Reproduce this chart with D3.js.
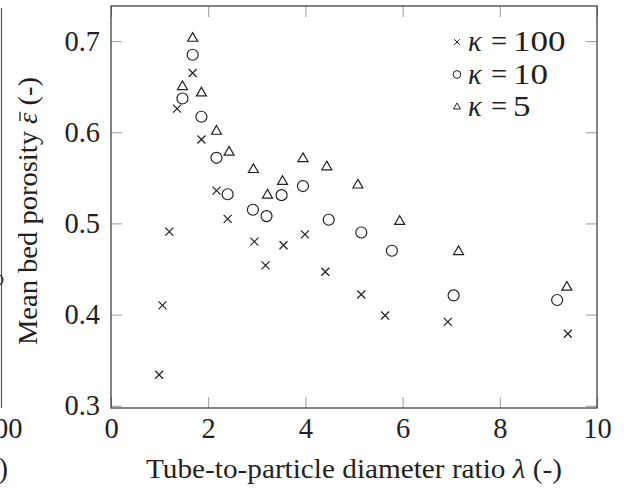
<!DOCTYPE html>
<html>
<head>
<meta charset="utf-8">
<script src="https://cdn.jsdelivr.net/npm/d3@7"></script>
<style>
  html, body { margin: 0; padding: 0; background: #fff; }
  svg { display: block; }
  svg text { font-family: "Liberation Serif", serif; fill: #231f20; }
</style>
</head>
<body>
<svg id="chart" width="624" height="488"></svg>
<script>
// ---- data ----
const xTicks = [0, 2, 4, 6, 8, 10];
const yTicks = [0.3, 0.4, 0.5, 0.6, 0.7];
const yTickLabels = ["0.3", "0.4", "0.5", "0.6", "0.7"];

// kappa = 100 (crosses)
const lambda100 = [0.99, 1.06, 1.20, 1.36, 1.68, 1.86, 2.17, 2.40, 2.95, 3.18, 3.55, 3.99, 4.41, 5.15, 5.64, 6.93, 9.40];
const eps100    = [0.334, 0.410, 0.491, 0.626, 0.665, 0.592, 0.536, 0.505, 0.480, 0.454, 0.476, 0.488, 0.447, 0.422, 0.399, 0.392, 0.379];

// kappa = 10 (circles)
const lambda10 = [1.47, 1.68, 1.86, 2.17, 2.40, 2.92, 3.20, 3.51, 3.95, 4.48, 5.15, 5.78, 7.05, 9.18];
const eps10    = [0.637, 0.685, 0.617, 0.572, 0.532, 0.515, 0.508, 0.531, 0.541, 0.504, 0.490, 0.470, 0.421, 0.416];

// kappa = 5 (triangles)
const lambda5 = [1.47, 1.68, 1.86, 2.17, 2.43, 2.93, 3.22, 3.53, 3.95, 4.44, 5.08, 5.94, 7.15, 9.38];
const eps5    = [0.650, 0.703, 0.643, 0.601, 0.578, 0.559, 0.531, 0.546, 0.571, 0.562, 0.542, 0.502, 0.469, 0.430];

const seriesNames = ["100", "10", "5"];
const seriesShapes = ["cross", "circle", "triangle"];

// ---- layout ----
const svg = d3.select("#chart");
const ink = "#231f20";
const fontSize = 28.5;
const serif = '"Liberation Serif", serif';
const pLeft = 111, pRight = 597, pTop = 6, pBottom = 408;

const x = d3.scaleLinear().domain([0, 10]).range([pLeft, pRight]);
const y = d3.scaleLinear().domain([0.2975, 0.7385]).range([pBottom, pTop]);

// cropped neighbour panel at the far left edge
const nb = svg.append("g");
nb.append("line").attr("x1", 1.5).attr("x2", 1.5).attr("y1", 8).attr("y2", 408)
  .attr("stroke", "#555").attr("stroke-width", 1.2);
nb.append("circle").attr("cx", -2).attr("cy", 280).attr("r", 5)
  .attr("fill", "none").attr("stroke", ink).attr("stroke-width", 1.2);
nb.append("text").attr("x", 1).attr("y", 438).attr("text-anchor", "middle")
  .attr("font-size", fontSize).text("100");
nb.append("text").attr("x", 8).attr("y", 478).attr("text-anchor", "end")
  .attr("font-size", fontSize).text("(-)");

// axes (ticks inside, mirrored)
const tickLen = 11;
const gx = svg.append("g").attr("transform", `translate(0,${pBottom})`)
  .call(d3.axisBottom(x).tickValues(xTicks).tickSize(-tickLen).tickPadding(10).tickFormat(d3.format("d")));
const gy = svg.append("g").attr("transform", `translate(${pLeft},0)`)
  .call(d3.axisLeft(y).tickValues(yTicks).tickSize(-tickLen).tickPadding(11).tickFormat((d, i) => yTickLabels[i]));
const gxt = svg.append("g").attr("transform", `translate(0,${pTop})`)
  .call(d3.axisTop(x).tickValues(xTicks).tickSize(-tickLen).tickFormat(""));
const gyr = svg.append("g").attr("transform", `translate(${pRight},0)`)
  .call(d3.axisRight(y).tickValues(yTicks).tickSize(-tickLen).tickFormat(""));

[gx, gy, gxt, gyr].forEach(g => {
  g.attr("font-family", serif).attr("font-size", fontSize);
  g.select(".domain").remove();
  g.selectAll(".tick line").attr("stroke", "#9a9a9a").attr("stroke-width", 1);
  g.selectAll(".tick text").attr("font-size", fontSize)
    .attr("font-family", serif).attr("fill", ink);
});

// frame
svg.append("rect").attr("x", pLeft).attr("y", pTop).attr("width", pRight - pLeft).attr("height", pBottom - pTop)
  .attr("fill", "none").attr("stroke", "#333").attr("stroke-width", 1.2);

// marker path generators
function markerPath(shape, s) {
  if (shape === "cross") {
    const h = s * 0.8 / 2;
    return `M${-h},${-h}L${h},${h}M${-h},${h}L${h},${-h}`;
  }
  if (shape === "circle") {
    const r = s * 0.55;
    return `M${r},0A${r},${r} 0 1,1 ${-r},0A${r},${r} 0 1,1 ${r},0Z`;
  }
  const a = s; // triangle side
  const hgt = a * Math.sqrt(3) / 2;
  return `M0,${-hgt * 2 / 3}L${a / 2},${hgt / 3}L${-a / 2},${hgt / 3}Z`;
}

const seriesData = [
  d3.zip(lambda100, eps100),
  d3.zip(lambda10, eps10),
  d3.zip(lambda5, eps5)
];

const plot = svg.append("g");
seriesData.forEach((pts, i) => {
  plot.selectAll(null).data(pts).enter().append("path")
    .attr("transform", d => `translate(${x(d[0])},${y(d[1])})`)
    .attr("d", markerPath(seriesShapes[i], 10))
    .attr("fill", "none").attr("stroke", ink).attr("stroke-width", 1.2);
});

// legend
const legendY = [42, 74.5, 107];
const leg = svg.append("g");
seriesNames.forEach((name, i) => {
  leg.append("path").attr("transform", `translate(457,${legendY[i]})`)
    .attr("d", markerPath(seriesShapes[i], 7))
    .attr("fill", "none").attr("stroke", ink).attr("stroke-width", 1);
  const by = legendY[i] + 9;
  leg.append("text").attr("x", 468).attr("y", by).attr("font-size", fontSize)
    .attr("font-style", "italic").text("κ");
  leg.append("text").attr("x", 491).attr("y", by).attr("font-size", fontSize).text("=");
  leg.append("text").attr("x", 513).attr("y", by).attr("font-size", fontSize)
    .attr("textLength", name.length * 17.5).attr("lengthAdjust", "spacingAndGlyphs").text(name);
});

// axis titles
const xl = svg.append("text").attr("x", (pLeft + pRight) / 2).attr("y", 478)
  .attr("text-anchor", "middle").attr("font-size", 27)
  .attr("textLength", 416).attr("lengthAdjust", "spacingAndGlyphs");
xl.append("tspan").text("Tube-to-particle diameter ratio ");
xl.append("tspan").attr("font-style", "italic").text("λ");
xl.append("tspan").text(" (-)");

const ylG = svg.append("g").attr("transform", "translate(37,211) rotate(-90)");
const yl = ylG.append("text").attr("x", 0).attr("y", 0)
  .attr("text-anchor", "middle").attr("font-size", 27)
  .attr("textLength", 268).attr("lengthAdjust", "spacingAndGlyphs");
const yPre = "Mean bed porosity ";
yl.append("tspan").text(yPre);
yl.append("tspan").attr("font-style", "italic").text("ε");
yl.append("tspan").text(" (-)");
// macron over epsilon
try {
  const node = yl.node();
  const s = node.getStartPositionOfChar(yPre.length);
  const e = node.getEndPositionOfChar(yPre.length);
  ylG.append("line")
    .attr("x1", s.x + 3).attr("x2", e.x + 1)
    .attr("y1", -17).attr("y2", -17)
    .attr("stroke", ink).attr("stroke-width", 1.3);
} catch (err) {}
</script>
</body>
</html>
